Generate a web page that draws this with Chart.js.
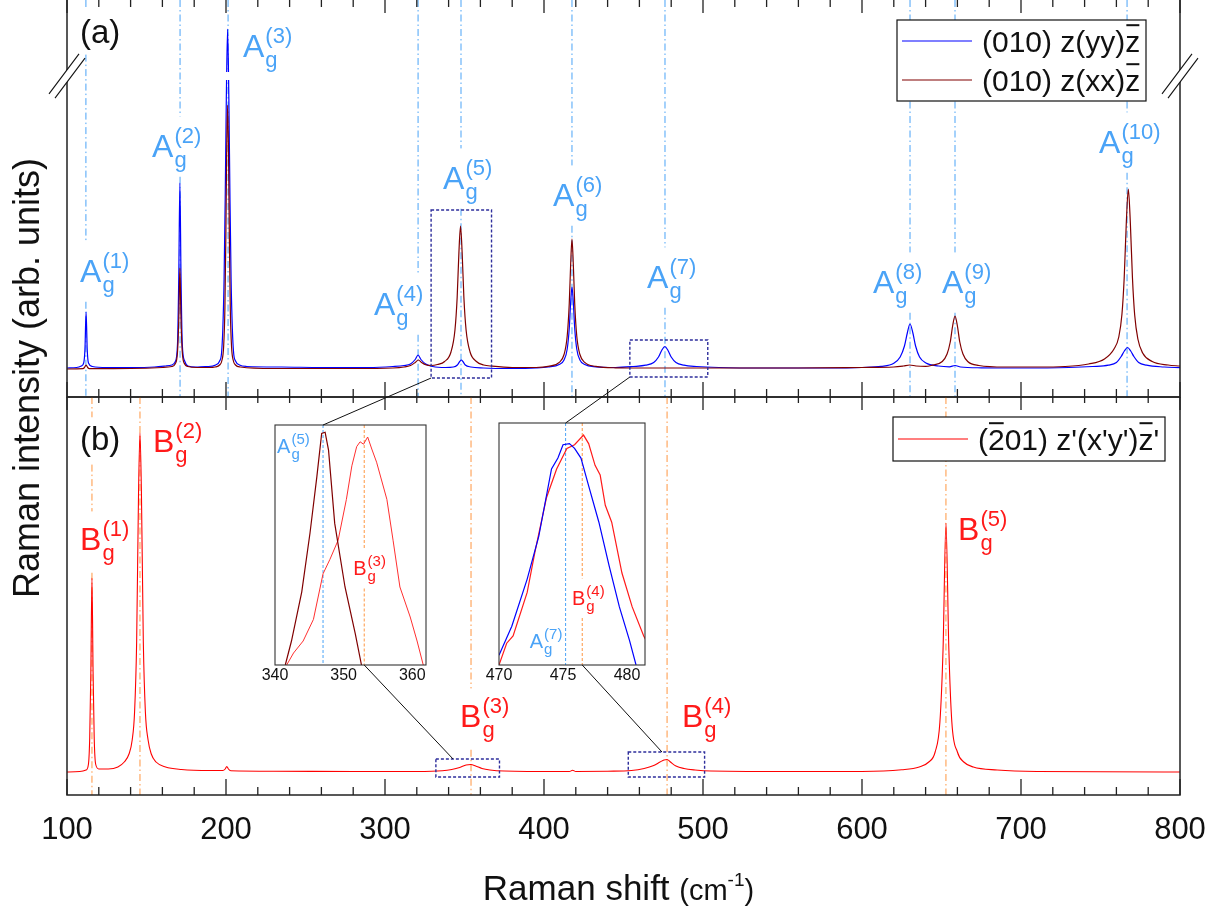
<!DOCTYPE html>
<html>
<head>
<meta charset="utf-8">
<script src="https://cdn.jsdelivr.net/npm/chart.js@4.4.1/dist/chart.umd.min.js"></script>
<style>
  body { margin: 0; background: #fff; }
  #wrap { position: relative; width: 1222px; height: 913px; }
  #wrap canvas { position: absolute; left: 0; top: 0; }
</style>
</head>
<body>
<div id="wrap">
  <canvas id="topChart" width="1222" height="913"></canvas>
  <canvas id="botChart" width="1222" height="913"></canvas>
  <canvas id="inset1" width="1222" height="913"></canvas>
  <canvas id="inset2" width="1222" height="913"></canvas>
  <canvas id="overlay" width="1222" height="913"></canvas>
</div>
<script>
// Panel (a): (010) face, z(yy)z and z(xx)z spectra (arb. units)
const yyShift = [100, 106, 109, 110.5, 111.3, 112, 112.7, 113.5, 116, 125, 140, 155, 162, 166, 168, 169.5, 170.3, 171, 171.7, 172.5, 174, 176, 181, 187,
  189, 193.5, 196, 197.2, 198, 198.8, 199.5, 200.2, 201, 201.8, 202.5, 203.2, 204, 204.8, 206, 208.5, 213, 235, 260, 290, 305, 312, 316, 319, 320.8, 322.6, 325.6,
  330, 338, 343, 345.5, 347, 348, 349, 350.5, 354, 362, 380, 395, 402.6, 409.6, 412.6, 414.6, 415.9, 416.75, 417.6, 418.45, 419.3, 420.6, 422.6, 425.6,
  432.6, 445, 456, 464, 469, 472, 474, 476, 478, 480, 483, 488, 496, 510, 540, 580, 600, 612, 620, 624, 626.7, 628.5, 630.2, 632, 633.7, 636.2, 640.2,
  648, 655, 658.5, 662, 675, 700, 730, 745, 755, 760, 763, 765, 767, 769, 771, 774, 779, 790, 800];
const yyInt = [1, 1.5, 3, 6, 20, 57, 20, 6, 2.5, 1.5, 1.5, 2, 3, 4, 7, 25, 93, 186, 93, 25, 8, 3, 2, 2.5,
  2.5, 4, 8, 16, 40, 90, 170, 270, 340, 270, 170, 90, 40, 16, 8, 4, 2.5, 2, 1.5, 1.5, 2.5, 3.5, 5, 9.5, 14, 9.5, 5,
  2.5, 1.5, 2, 4, 7.5, 9, 7.5, 4, 2, 1, 0.5, 1, 2, 4.5, 9, 20, 41, 66, 82, 66, 41, 20, 9, 4.5,
  2.2, 1.5, 2.5, 3.8, 6.5, 12, 18.5, 22.5, 18.5, 12, 6.5, 3.8, 2.5, 1.5, 1, 1, 1.5, 2.6, 5.8, 12, 23, 36, 45, 36, 23, 12, 6,
  3, 2.2, 3.5, 2, 1.2, 1, 1.5, 2.5, 3.8, 6.5, 12.5, 18, 21.5, 18, 12.5, 6.5, 3.8, 2, 1.3];
const xxShift = [100, 110, 111, 112, 113, 114, 140, 160, 166, 168, 169.5, 170.3, 171, 171.7, 172.5, 174, 176, 182, 190, 193, 196, 197.5, 198.5, 199.3,
  199.9, 200.4, 201, 201.6, 202.1, 202.7, 203.5, 204.5, 206, 209, 230, 280, 305, 312, 316, 319, 321, 323, 326, 329, 333, 337.5, 341.5, 344, 345.4, 346.5, 347.5,
  348.5, 349.6, 351, 353.5, 357.5, 362, 367.5, 380, 395, 402.6, 409.6, 412.6, 414.6, 415.9, 416.75, 417.6, 418.45, 419.3, 420.6, 422.6, 425.6, 432.6,
  445, 470, 500, 560, 600, 620, 626, 630, 634, 640, 643.5, 650.5, 653.5, 655.5, 657, 658.5, 660, 661.5, 663.5, 666.5, 673.5, 690, 710, 727.5, 742.5,
  752.5, 758.5, 761.5, 763.5, 764.9, 766.2, 767.5, 768.8, 770.1, 771.5, 773.5, 776.5, 782.5, 792.5, 800];
const xxInt = [0, 0.3, 1.5, 4, 1.5, 0.3, 0.5, 1.5, 2.5, 5, 17, 50, 101, 50, 17, 5, 2.5, 1.5, 1.5, 2, 4, 9, 22, 60,
  132, 215, 264, 215, 132, 60, 22, 9, 4, 2, 0.5, 0.5, 1, 2, 3.5, 6.5, 9, 6.5, 4, 3.5, 4.5, 7.5, 17, 39, 72, 117, 143,
  117, 72, 39, 17, 7.5, 4, 2.8, 1.5, 1.5, 2.6, 6.6, 14.5, 33, 66, 104, 130, 104, 66, 33, 14.5, 6.6, 2.6,
  1.2, 1, 1, 1, 1.5, 2, 3, 4, 3, 2.6, 3.5, 7.5, 15, 27, 43, 53, 43, 27, 15, 7.5, 3.5, 2, 2, 2.5, 5,
  10, 20, 32, 55, 91, 145, 180, 145, 91, 54, 30, 16, 7.5, 4, 3];

// Panel (b): (-201) face, z'(x'y')z' spectrum
const bShift = [100, 108, 112, 113.5, 114.3, 115, 115.7, 116.4, 117.1, 118, 120, 126, 132, 136, 139, 141, 142.5, 143.8, 145, 145.9, 146.8, 148, 149.3,
  151, 153, 156, 162, 172, 190, 198, 199.5, 200.5, 201.5, 203, 230, 280, 320, 336, 342, 347, 351, 354, 357, 361, 366, 375, 410, 416, 418, 420, 440,
  455, 463, 469, 473, 475.5, 477.4, 479.5, 483, 488, 495, 505, 560, 600, 625, 636, 642, 646, 649, 651, 652.8, 654.6, 656.5, 660, 664, 670, 685, 710, 800];
const bInt = [0, 0.5, 2, 8, 35, 100, 194, 100, 35, 8, 3, 3, 5, 10, 18, 32, 60, 130, 280, 339, 280, 130, 60,
  32, 18, 10, 5, 2.5, 1.5, 1.5, 3, 5.5, 3, 1.3, 0.8, 0.5, 0.5, 1.2, 2.5, 4.5, 7, 7.5, 6, 3.5, 2, 1, 0.5, 0.5, 1.8, 0.5, 0.8,
  1.5, 3.5, 6.5, 10, 12, 12.5, 10, 6, 3.5, 2, 1, 0.5, 0.5, 2.2, 5, 10, 20, 50, 124, 249, 124, 50, 20, 10, 5, 2, 0.5, 0];

// Insets (normalised intensity)
const in1XxShift = [341.5, 342.4, 343.9, 345.1, 346.1, 346.8, 347.3, 347.8, 348.7, 350.2, 351.7, 352.6];
const in1XxInt = [0, 0.10, 0.305, 0.55, 0.785, 0.965, 0.97, 0.895, 0.59, 0.325, 0.13, 0];
const in1BShift = [341.7, 342.7, 344.1, 345.6, 347.0, 348.0, 349.2, 350.4, 351.2, 351.9, 352.4, 352.9, 353.5, 354.1, 354.8, 356.3, 357.2, 358.2, 359.7, 360.7, 361.6];
const in1BInt = [0, 0.05, 0.10, 0.19, 0.38, 0.44, 0.52, 0.69, 0.83, 0.91, 0.93, 0.92, 0.95, 0.90, 0.845, 0.69, 0.52, 0.325, 0.20, 0.10, 0];
const in2YyShift = [470.0, 470.5, 471.0, 472.2, 473.1, 474.1, 474.6, 475.0, 475.5, 475.9, 476.4, 477.0, 477.8, 478.6, 479.4, 480.2, 480.7];
const in2YyInt = [0.04, 0.10, 0.16, 0.355, 0.53, 0.81, 0.855, 0.91, 0.915, 0.895, 0.855, 0.74, 0.59, 0.41, 0.24, 0.10, 0];
const in2BShift = [470.0, 470.6, 471.1, 472.2, 472.8, 473.7, 474.5, 475.3, 475.9, 476.6, 477.0, 477.5, 477.9, 478.3, 478.8, 479.6, 480.4, 481.3, 481.6];
const in2BInt = [0, 0.09, 0.12, 0.30, 0.465, 0.69, 0.81, 0.895, 0.91, 0.95, 0.915, 0.825, 0.785, 0.66, 0.59, 0.38, 0.24, 0.12, 0.09];

// Mode positions (cm-1) and where their labels sit
const agModes = [111.9, 171.1, 201.3, 320.8, 347.8, 417.6, 476.1, 630.2, 658.5, 766.7];
const agLabelX = [108.2, 153.5, 210.7, 293.1, 336.5, 405.7, 464.8, 606.9, 650.3, 749.1];
const agLabelY = [87, 212, 312, 54, 180, 163, 81, 76, 76, 216];
const bgModes = [115.7, 145.9, 354.1, 477.4, 652.8];
const bgLabelX = [108.2, 154.1, 347.2, 486.8, 660.4];
const bgLabelY = [222, 320, 45, 45, 232];
const xTicks = [100, 200, 300, 400, 500, 600, 700, 800];

const FONT = '"Liberation Sans", Arial, Helvetica, sans-serif';
const font = px => px + 'px ' + FONT;
const pts = (xs, ys) => xs.map((x, i) => ({ x: x, y: ys[i] }));

const agColor = '#4aa3f7';
const bgColor = '#ff1a1a';
const bgLineColor = '#ff9640';
const boxColor = '#2e2e9c';

// label like A_g^(n): returns box used to break the dash-dot lines
function labelBox(ctx, px, py, main, sup, big, small) {
  ctx.font = font(big);
  const wm = ctx.measureText(main).width;
  ctx.font = font(small);
  const ws = Math.max(ctx.measureText('g').width, ctx.measureText(sup).width);
  return { wm: wm, l: px, r: px + wm + 1 + ws, t: py - 0.44 * big - 0.75 * small, b: py + 0.31 * big + 0.22 * small };
}

function drawLabel(ctx, px, py, main, sup, big, small, color) {
  const m = labelBox(ctx, px, py, main, sup, big, small);
  ctx.save();
  ctx.fillStyle = color;
  ctx.textAlign = 'left';
  ctx.textBaseline = 'alphabetic';
  ctx.font = font(big);
  ctx.fillText(main, px, py);
  ctx.font = font(small);
  ctx.fillText('g', px + m.wm + 1, py + 0.31 * big);
  ctx.fillText(sup, px + m.wm + 1, py - 0.44 * big);
  ctx.restore();
}

function textBox(ctx, txt, px, py, size) {
  ctx.font = font(size);
  return { l: px, r: px + ctx.measureText(txt).width, t: py - 0.75 * size, b: py + 0.2 * size };
}

// vertical mode lines, broken where a label sits on them
function modeLines(ctx, area, xs, boxes, color, dash, padT, padB) {
  ctx.save();
  ctx.strokeStyle = color;
  ctx.lineWidth = 1;
  xs.forEach(x => {
    const hits = boxes.filter(b => x >= b.l - 3 && x <= b.r + 3).sort((p, q) => p.t - q.t);
    const segs = [];
    let y = area.top;
    hits.forEach(b => {
      if (b.t - padT > y) segs.push([y, b.t - padT]);
      y = Math.max(y, b.b + padB);
    });
    if (y < area.bottom) segs.push([y, area.bottom]);
    segs.forEach(s => {
      ctx.setLineDash(dash);
      ctx.beginPath();
      ctx.moveTo(x, s[0]);
      ctx.lineTo(x, s[1]);
      ctx.stroke();
    });
  });
  ctx.restore();
}

function drawTicks(ctx, sx, y, dir, maj, min) {
  ctx.save();
  ctx.strokeStyle = '#222';
  ctx.lineWidth = 1.3;
  ctx.beginPath();
  for (let v = 100; v <= 800; v += 20) {
    const x = sx.getPixelForValue(v);
    const len = v % 100 === 0 ? maj : min;
    ctx.moveTo(x, y);
    ctx.lineTo(x, y + dir * len);
  }
  ctx.stroke();
  ctx.restore();
}

function dottedBox(ctx, sx, sy, x0, x1, y0, y1) {
  ctx.save();
  ctx.strokeStyle = boxColor;
  ctx.lineWidth = 1.4;
  ctx.setLineDash([3, 2]);
  const l = sx.getPixelForValue(x0), r = sx.getPixelForValue(x1);
  const t = sy.getPixelForValue(y1), b = sy.getPixelForValue(y0);
  ctx.strokeRect(l, t, r - l, b - t);
  ctx.restore();
}

// legend: rows of {color, parts:[[text, overbar]]}
function drawLegend(ctx, x, y, w, h, rows, size, rowH, first) {
  ctx.save();
  ctx.fillStyle = '#fff';
  ctx.fillRect(x, y, w, h);
  ctx.strokeStyle = '#111';
  ctx.lineWidth = 1.2;
  ctx.strokeRect(x, y, w, h);
  rows.forEach((row, i) => {
    const cy = y + first + i * rowH;
    ctx.strokeStyle = row.color;
    ctx.lineWidth = 1.2;
    ctx.beginPath();
    ctx.moveTo(x + 5, cy);
    ctx.lineTo(x + 75, cy);
    ctx.stroke();
    ctx.font = font(size);
    ctx.fillStyle = '#111';
    ctx.textBaseline = 'alphabetic';
    let tx = x + 85;
    const base = cy + 0.36 * size;
    row.parts.forEach(p => {
      const tw = ctx.measureText(p[0]).width;
      ctx.fillText(p[0], tx, base);
      if (p[1]) ctx.fillRect(tx + 1, base - 0.92 * size, tw - 2, 2);
      tx += tw;
    });
  });
  ctx.restore();
}

function frameSides(ctx, a) {
  ctx.save();
  ctx.strokeStyle = '#222';
  ctx.lineWidth = 1.5;
  ctx.beginPath();
  ctx.moveTo(a.left, a.top);
  ctx.lineTo(a.left, a.bottom);
  ctx.lineTo(a.right, a.bottom);
  ctx.lineTo(a.right, a.top);
  ctx.stroke();
  ctx.restore();
}

function breakMark(ctx, x, y) {
  ctx.save();
  ctx.fillStyle = '#fff';
  ctx.beginPath();
  ctx.moveTo(x - 18, y + 18);
  ctx.lineTo(x + 12, y - 22);
  ctx.lineTo(x + 18, y - 18);
  ctx.lineTo(x - 12, y + 22);
  ctx.closePath();
  ctx.fill();
  ctx.strokeStyle = '#111';
  ctx.lineWidth = 1.1;
  [-3, 3].forEach(o => {
    ctx.beginPath();
    ctx.moveTo(x - 15 + o, y + 20 + o * 0.7);
    ctx.lineTo(x + 15 + o, y - 20 + o * 0.7);
    ctx.stroke();
  });
  ctx.restore();
}

const breakY = 293;

const topDeco = {
  id: 'topDeco',
  beforeDatasetsDraw(chart) {
    const { ctx, chartArea: a, scales: { x, y } } = chart;
    const boxes = agLabelX.map((v, i) => labelBox(ctx, x.getPixelForValue(v), y.getPixelForValue(agLabelY[i]), 'A', '(' + (i + 1) + ')', 32, 22));
    boxes.push(textBox(ctx, '(a)', a.left + 13, a.top + 43, 33));
    modeLines(ctx, a, agModes.map(v => x.getPixelForValue(v)), boxes, agColor, [7, 3, 1.5, 3], 10, 5);
  },
  afterDatasetsDraw(chart) {
    const { ctx, chartArea: a, scales: { x, y } } = chart;
    // axis break through the A_g(3) peak
    const bx = x.getPixelForValue(agModes[2]), by = y.getPixelForValue(breakY);
    ctx.fillStyle = '#fff';
    ctx.fillRect(bx - 6, by - 4, 12, 8);
    agLabelX.forEach((v, i) => drawLabel(ctx, x.getPixelForValue(v), y.getPixelForValue(agLabelY[i]), 'A', '(' + (i + 1) + ')', 32, 22, agColor));
    ctx.fillStyle = '#111';
    ctx.font = font(33);
    ctx.fillText('(a)', a.left + 13, a.top + 43);
    dottedBox(ctx, x, y, 329, 367, -9, 159);
    dottedBox(ctx, x, y, 454, 503, -8, 29);
    drawLegend(ctx, a.right - 283, a.top + 20, 249, 81, [
      { color: '#0000ff', parts: [['(010) z(yy)', false], ['z', true]] },
      { color: '#800000', parts: [['(010) z(xx)', false], ['z', true]] }
    ], 30, 39, 21);
    frameSides(ctx, a);
    drawTicks(ctx, x, a.top, 1, 13, 7);
    drawTicks(ctx, x, a.bottom, -1, 15, 8);
    breakMark(ctx, a.left, by);
    breakMark(ctx, a.right, by);
  }
};

const botDeco = {
  id: 'botDeco',
  beforeDatasetsDraw(chart) {
    const { ctx, chartArea: a, scales: { x, y } } = chart;
    const boxes = bgLabelX.map((v, i) => labelBox(ctx, x.getPixelForValue(v), y.getPixelForValue(bgLabelY[i]), 'B', '(' + (i + 1) + ')', 32, 22));
    boxes.push(textBox(ctx, '(b)', a.left + 13, a.top + 53, 33));
    modeLines(ctx, a, bgModes.map(v => x.getPixelForValue(v)), boxes, bgLineColor, [7, 3, 1.5, 3], 8, 8);
  },
  afterDatasetsDraw(chart) {
    const { ctx, chartArea: a, scales: { x, y } } = chart;
    bgLabelX.forEach((v, i) => drawLabel(ctx, x.getPixelForValue(v), y.getPixelForValue(bgLabelY[i]), 'B', '(' + (i + 1) + ')', 32, 22, bgColor));
    ctx.fillStyle = '#111';
    ctx.font = font(33);
    ctx.textAlign = 'left';
    ctx.fillText('(b)', a.left + 13, a.top + 53);
    dottedBox(ctx, x, y, 332, 372, -5, 13);
    dottedBox(ctx, x, y, 453, 501, -5, 20);
    drawLegend(ctx, a.right - 287, a.top + 20, 272, 44, [
      { color: '#ff0000', parts: [['(', false], ['2', true], ["01) z'(x'y')", false], ['z', true], ["'", false]] }
    ], 30, 0, 22);
    frameSides(ctx, a);
    ctx.save();
    ctx.strokeStyle = '#222';
    ctx.lineWidth = 1.5;
    ctx.beginPath();
    ctx.moveTo(a.left, a.top);
    ctx.lineTo(a.right, a.top);
    ctx.stroke();
    ctx.restore();
    drawTicks(ctx, x, a.top, 1, 13, 6);
    drawTicks(ctx, x, a.bottom, -1, 16, 8);

    // tick labels and axis titles
    ctx.save();
    ctx.fillStyle = '#111';
    ctx.font = font(31);
    ctx.textAlign = 'center';
    ctx.textBaseline = 'alphabetic';
    xTicks.forEach(v => ctx.fillText(String(v), x.getPixelForValue(v), a.bottom + 44));

    ctx.textAlign = 'left';
    const parts = [['Raman shift ', 35, 0], ['(cm', 29, 0], ['-1', 19, -14], [')', 29, 0]];
    let total = 0;
    parts.forEach(p => { ctx.font = font(p[1]); total += ctx.measureText(p[0]).width; });
    let tx = (a.left + a.right) / 2 - 5 - total / 2;
    parts.forEach(p => {
      ctx.font = font(p[1]);
      ctx.fillText(p[0], tx, a.bottom + 105 + p[2]);
      tx += ctx.measureText(p[0]).width;
    });

    ctx.translate(39, 378);
    ctx.rotate(-Math.PI / 2);
    ctx.textAlign = 'center';
    ctx.font = font(36);
    ctx.fillText('Raman intensity (arb. units)', 0, 0);
    ctx.restore();
  }
};

function insetDeco(id, ticks, lines, labels) {
  return {
    id: id,
    beforeDraw(chart) {
      const { ctx, chartArea: a } = chart;
      ctx.save();
      ctx.fillStyle = '#fff';
      ctx.fillRect(a.left, a.top, a.right - a.left, a.bottom - a.top);
      ctx.restore();
    },
    beforeDatasetsDraw(chart) {
      const { ctx, chartArea: a, scales: { x, y } } = chart;
      const boxes = labels.map(l => labelBox(ctx, x.getPixelForValue(l.x), y.getPixelForValue(l.y), l.main, l.sup, 20, 15));
      lines.forEach(ln => modeLines(ctx, a, [x.getPixelForValue(ln.v)], boxes, ln.color, [3, 2], 6, 4));
    },
    afterDatasetsDraw(chart) {
      const { ctx, chartArea: a, scales: { x, y } } = chart;
      labels.forEach(l => drawLabel(ctx, x.getPixelForValue(l.x), y.getPixelForValue(l.y), l.main, l.sup, 20, 15, l.color));
      ctx.save();
      ctx.strokeStyle = '#333';
      ctx.lineWidth = 1.1;
      ctx.strokeRect(a.left, a.top, a.right - a.left, a.bottom - a.top);
      ctx.fillStyle = '#111';
      ctx.font = font(16);
      ctx.textAlign = 'center';
      ticks.forEach(v => ctx.fillText(String(v), x.getPixelForValue(v), a.bottom + 15));
      ctx.restore();
    }
  };
}

function makeChart(id, pad, xr, yr, datasets, plugin) {
  return new Chart(document.getElementById(id), {
    type: 'line',
    data: { datasets: datasets },
    options: {
      responsive: false,
      animation: false,
      events: [],
      layout: { padding: pad },
      plugins: { legend: { display: false }, tooltip: { enabled: false } },
      scales: {
        x: { type: 'linear', min: xr[0], max: xr[1], display: false },
        y: { type: 'linear', min: yr[0], max: yr[1], display: false }
      },
      elements: { point: { radius: 0 } }
    },
    plugins: [plugin]
  });
}

const smooth = { borderWidth: 1.2, cubicInterpolationMode: 'monotone', fill: false };

const topChart = makeChart('topChart', { left: 67, right: 42, top: 0, bottom: 516 }, [100, 800], [-28, 369], [
  Object.assign({ label: '(010) z(yy)z', data: pts(yyShift, yyInt), borderColor: '#0000ff', order: 2 }, smooth),
  Object.assign({ label: '(010) z(xx)z', data: pts(xxShift, xxInt), borderColor: '#800000', order: 1 }, smooth)
], topDeco);

const botChart = makeChart('botChart', { left: 67, right: 42, top: 397, bottom: 118 }, [100, 800], [-23, 375], [
  Object.assign({ label: "(-201) z'(x'y')z'", data: pts(bShift, bInt), borderColor: '#ff0000', borderWidth: 1.1 }, { cubicInterpolationMode: 'monotone', fill: false })
], botDeco);

const inset1 = makeChart('inset1', { left: 275, right: 796, top: 425, bottom: 248 }, [340, 362], [0, 1], [
  { data: pts(in1XxShift, in1XxInt), borderColor: '#800000', borderWidth: 1.2, tension: 0 },
  { data: pts(in1BShift, in1BInt), borderColor: '#ff3030', borderWidth: 1, tension: 0 }
], insetDeco('in1Deco', [340, 350, 360],
  [{ v: 347, color: agColor }, { v: 353, color: bgLineColor }],
  [{ x: 340.3, y: 0.883, main: 'A', sup: '(5)', color: agColor }, { x: 351.4, y: 0.375, main: 'B', sup: '(3)', color: bgColor }]));

const inset2 = makeChart('inset2', { left: 499, right: 577, top: 423, bottom: 248 }, [470, 481.4], [0, 1], [
  { data: pts(in2YyShift, in2YyInt), borderColor: '#0000ff', borderWidth: 1.2, tension: 0 },
  { data: pts(in2BShift, in2BInt), borderColor: '#ff1a1a', borderWidth: 1.2, tension: 0 }
], insetDeco('in2Deco', [470, 475, 480],
  [{ v: 475.2, color: agColor }, { v: 476.5, color: bgLineColor }],
  [{ x: 472.4, y: 0.07, main: 'A', sup: '(7)', color: agColor }, { x: 475.7, y: 0.25, main: 'B', sup: '(4)', color: bgColor }]));

// zoom connectors between the dotted boxes and the insets
const ov = document.getElementById('overlay').getContext('2d');
const px = (c, v) => c.scales.x.getPixelForValue(v);
const py = (c, v) => c.scales.y.getPixelForValue(v);
const connectors = [
  [px(topChart, 329), py(topChart, -9), px(inset1, 347), inset1.chartArea.top],
  [px(topChart, 454), py(topChart, -8), px(inset2, 475.2), inset2.chartArea.top],
  [px(inset1, 353), inset1.chartArea.bottom, px(botChart, 342.8), py(botChart, 13)],
  [px(inset2, 476.5), inset2.chartArea.bottom, px(botChart, 474.2), py(botChart, 20)]
];
ov.strokeStyle = '#111';
ov.lineWidth = 1;
connectors.forEach(c => {
  ov.beginPath();
  ov.moveTo(c[0], c[1]);
  ov.lineTo(c[2], c[3]);
  ov.stroke();
});
</script>
</body>
</html>
